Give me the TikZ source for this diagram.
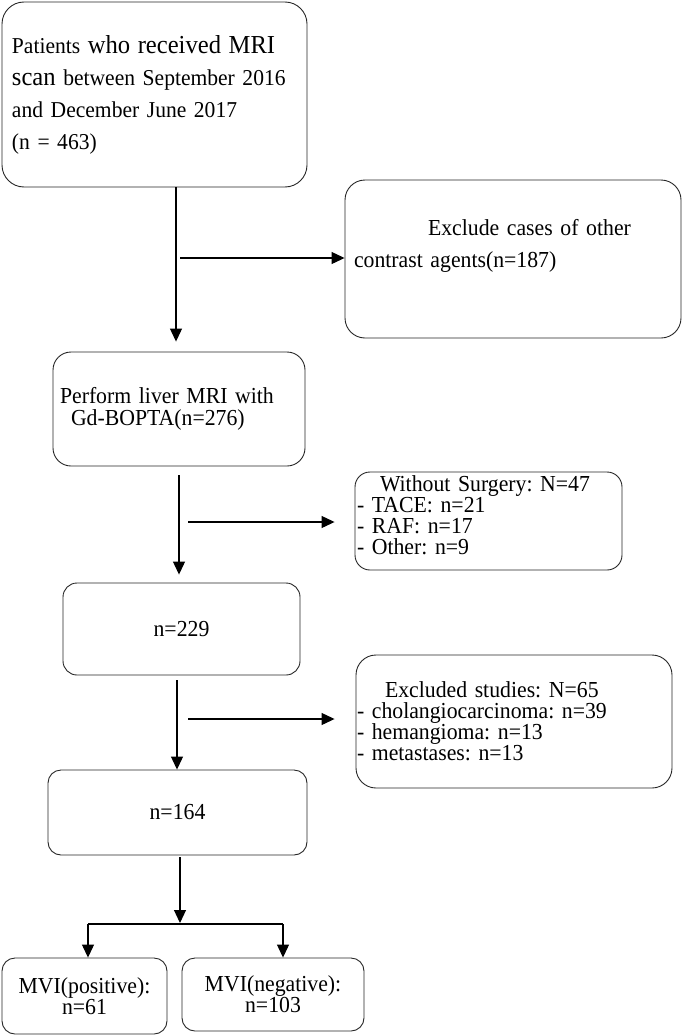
\documentclass[tikz,border=0pt]{standalone}
\usepackage{fontspec}
\setmainfont{Liberation Serif}[FakeStretch=0.95]
\usetikzlibrary{arrows.meta}
\frenchspacing
\newcommand\tightls{\lineskiplimit=-20pt\relax}
\begin{document}
\begin{tikzpicture}[x=1pt,y=-1pt,
  box/.style={draw=black!85, line width=0.9pt, align=left, inner ysep=0pt,
    font=\fontsize{22.9}{21}\selectfont\tightls},
  cbox/.style={box, align=center, inner xsep=0pt},
  arr/.style={-{Triangle[width=12pt,length=13pt]}, line width=1.1pt, black},
  bar/.style={line width=1.8pt, black}
]
\useasboundingbox (0,0) rectangle (685,1036);

% boxes
\node[box, rounded corners=22pt, minimum width=305pt, minimum height=185pt,
  text width=285pt, inner xsep=10pt, font=\fontsize{22.7}{32}\selectfont\tightls]
  (b1) at (154.5,94.5)
  {Patients {\fontsize{25.9}{32}\selectfont who received MRI}\\
   {\fontsize{25.9}{32}\selectfont scan} between September 2016\\
   and December June 2017\\
   (n = 463)};

\node[box, rounded corners=20pt, minimum width=336pt, minimum height=158pt,
  text width=318pt, inner xsep=9pt, font=\fontsize{22.9}{32}\selectfont\tightls]
  (b2) at (513,259)
  {\hspace*{74pt}Exclude cases of other\\contrast agents(n=187)\\\mbox{}};

\node[box, rounded corners=18pt, minimum width=252pt, minimum height=114pt,
  text width=238pt, inner xsep=7pt, font=\fontsize{22.9}{22.5}\selectfont\tightls]
  (b3) at (179,409)
  {Perform liver MRI with\\\hspace*{11pt}Gd-BOPTA(n=276)};

\node[box, rounded corners=15pt, minimum width=267pt, minimum height=98pt,
  text width=263pt, inner xsep=2pt]
  (b4) at (488.5,521)
  {\hspace*{23pt}Without Surgery: N=47\\- TACE: n=21\\- RAF: n=17\\- Other: n=9\rule[-12pt]{0pt}{12pt}};

\node[cbox, rounded corners=14pt, minimum width=237pt, minimum height=92pt]
  (b5) at (181.5,629) {n=229};

\node[box, rounded corners=20pt, minimum width=316pt, minimum height=133pt,
  text width=314pt, inner xsep=1pt]
  (b6) at (514,721.5)
  {\hspace*{28pt}Excluded studies: N=65\\- cholangiocarcinoma: n=39\\- hemangioma: n=13\\- metastases: n=13};

\node[cbox, rounded corners=13pt, minimum width=259pt, minimum height=85pt]
  (b7) at (177.5,812.5) {n=164};

\node[cbox, rounded corners=13pt, minimum width=165pt, minimum height=76pt]
  (b8) at (84.5,996) {MVI(positive):\\n=61};

\node[cbox, rounded corners=13pt, minimum width=182pt, minimum height=73pt]
  (b9) at (273,994.5) {MVI(negative):\\n=103};

% connector helper coordinates
\coordinate (v1) at (176,0);
\coordinate (h1) at (180,258);
\coordinate (v2) at (179,0);
\coordinate (h2) at (188,522);
\coordinate (v3) at (177,0);
\coordinate (h3) at (188,719);
\coordinate (v4) at (180,0);
\coordinate (bm) at (180,924);
\coordinate (bl) at (88,924);
\coordinate (br) at (283,924);

% connectors
\draw[arr, shorten >=10pt] (b1.south -| v1) -- (b3.north -| v1);
\draw[arr] (h1) -- (h1 -| b2.west);

\draw[arr, shorten <=9pt, shorten >=8pt] (b3.south -| v2) -- (b5.north -| v2);
\draw[arr, shorten >=20pt] (h2) -- (h2 -| b4.west);

\draw[arr, shorten <=5pt] (b5.south -| v3) -- (b7.north -| v3);
\draw[arr, shorten >=21pt] (h3) -- (h3 -| b6.west);

\draw[arr, shorten <=2pt, shorten >=1pt] (b7.south -| v4) -- (bm);
\draw[bar] (bl) -- (br);
\draw[arr] (bl) -- (bl |- b8.north);
\draw[arr] (br) -- (br |- b9.north);
\end{tikzpicture}
\end{document}
